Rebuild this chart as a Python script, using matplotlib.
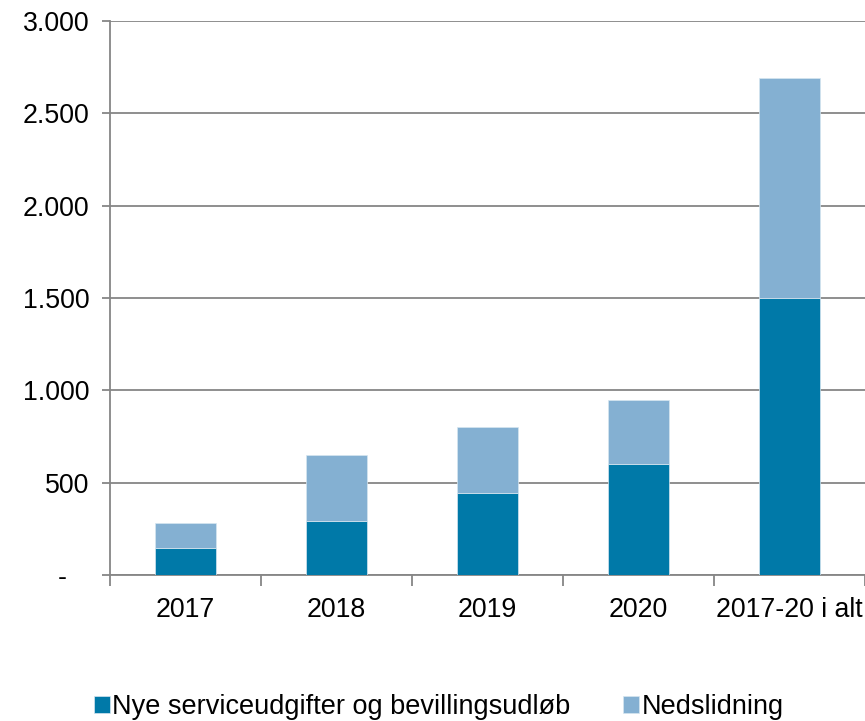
import matplotlib.pyplot as plt
import numpy as np

plt.rcParams['font.family'] = ['Liberation Sans', 'DejaVu Sans']

categories = ['2017', '2018', '2019', '2020', '2017-20 i alt']
nye = [145, 295, 445, 600, 1500]
nedslid = [135, 355, 355, 350, 1190]
ytick_vals = [0, 500, 1000, 1500, 2000, 2500, 3000]
ytick_labels = ['-   ', '500', '1.000', '1.500', '2.000', '2.500', '3.000']

dark = '#0079A8'
light = '#84B0D2'
grey = '#868686'

fig = plt.figure(figsize=(8.65, 7.21), dpi=100)
ax = fig.add_axes([0.1272, 0.2025, 0.8728, 0.7684])

x = np.arange(len(categories))
b1 = ax.bar(x, nye, width=0.4, color=dark, edgecolor='#d6e6f0', linewidth=0.5, zorder=3)
b2 = ax.bar(x, nedslid, width=0.4, bottom=nye, color=light, edgecolor='#d6e6f0', linewidth=0.5, zorder=3)

ax.set_xlim(-0.5, 4.5)
ax.set_ylim(0, 3000)
ax.set_yticks(ytick_vals)
ax.set_yticklabels(ytick_labels, fontsize=19.3)
ax.set_xticks(x)
ax.set_xticklabels(categories, fontsize=19.3)
ax.set_xticks(np.arange(-0.5, 5, 1), minor=True)
ax.tick_params(axis='x', which='major', length=0, pad=16)
ax.tick_params(axis='x', which='minor', length=8, width=1.3, color=grey, direction='out')
ax.tick_params(axis='y', length=6, width=1.3, color=grey, pad=9)

ax.grid(axis='y', color=grey, linewidth=1.3, zorder=0)
for s in ['top', 'right']:
    ax.spines[s].set_visible(False)
for s in ['left', 'bottom']:
    ax.spines[s].set_color(grey)
    ax.spines[s].set_linewidth(1.3)

fig.legend([b1, b2], ['Nye serviceudgifter og bevillingsudløb', 'Nedslidning'],
           loc='center', bbox_to_anchor=(0.507, 0.019), ncol=2, frameon=False,
           fontsize=19.5, handlelength=0.6, handleheight=0.6, handletextpad=0.08,
           columnspacing=1.95)

fig.savefig('out.png', dpi=100)
